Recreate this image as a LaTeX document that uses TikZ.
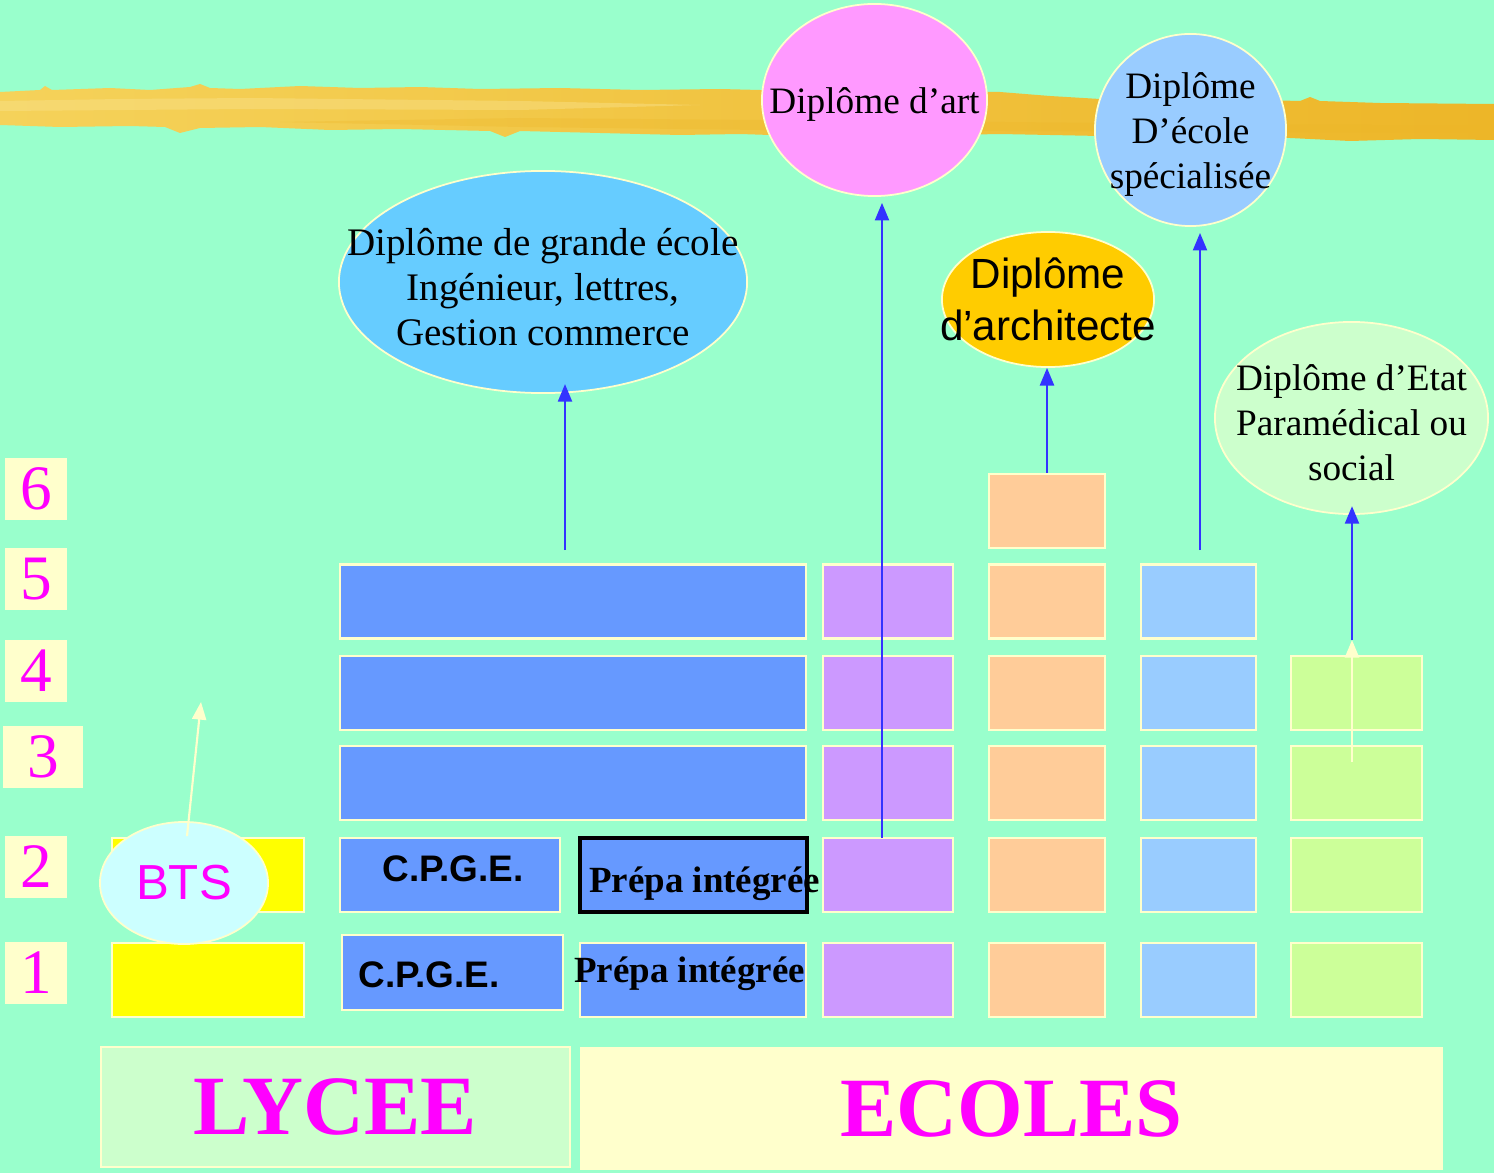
\documentclass[tikz,border=0pt]{standalone}
\usepackage{fontspec}
\setmainfont{Liberation Serif}
\setsansfont{Liberation Sans}
\usetikzlibrary{shapes.geometric}
\usetikzlibrary{arrows.meta}

\definecolor{mint}{HTML}{99FFCC}
\definecolor{cream}{HTML}{FFFFCC}
\definecolor{digit}{HTML}{FF00FF}
\definecolor{arrowblue}{HTML}{3333FF}
\definecolor{brushlight}{HTML}{F5D25A}
\definecolor{brushdark}{HTML}{EDB628}
\definecolor{brushpale}{HTML}{F9E28C}
\definecolor{gdecol}{HTML}{66CCFF}
\definecolor{artcol}{HTML}{FF99FF}
\definecolor{speccol}{HTML}{99CCFF}
\definecolor{archicol}{HTML}{FFCC00}
\definecolor{etatcol}{HTML}{CCFFCC}
\definecolor{btscol}{HTML}{CCFFFF}
\definecolor{btscell}{HTML}{FFFF00}
\definecolor{bluecell}{HTML}{6699FF}
\definecolor{purplecell}{HTML}{CC99FF}
\definecolor{orangecell}{HTML}{FFCC99}
\definecolor{skycell}{HTML}{99CCFF}
\definecolor{greencell}{HTML}{CCFF99}

\tikzstyle{year box}=[fill=cream, inner sep=0, minimum width=0.62cm, minimum height=0.62cm, text=digit, font=\fontsize{18}{18}\selectfont]
\tikzstyle{cell}=[draw=cream, line width=0.6pt, inner sep=0, minimum height=0.74cm]
\tikzstyle{diploma}=[ellipse, draw=cream, line width=0.5pt, inner sep=0]
\tikzstyle{diploma text}=[align=center, inner sep=0, yshift=-1.4pt, font=\fontsize{10.6}{12.8}\selectfont]
\tikzstyle{cell text}=[anchor=base, inner sep=0, font=\bfseries\fontsize{10.5}{10.5}\selectfont]
\tikzstyle{banner}=[inner sep=0, text=digit, font=\bfseries\fontsize{24}{24}\selectfont]
\tikzstyle{path arrow}=[draw=arrowblue, line width=0.6pt, -{Triangle[width=4pt,length=5pt]}]
\tikzstyle{pale arrow}=[draw=cream, line width=0.6pt, -{Triangle[width=4pt,length=5pt]}]

\begin{document}
\begin{tikzpicture}[x=0.01cm, y=-0.01cm]
    \useasboundingbox (0,0) rectangle (1494,1173);
    \fill[mint] (0,0) rectangle (1494,1173);

    % brush stroke
    \shade[left color=brushlight, right color=brushdark] (0,92) -- (40,90) -- (45,86) -- (52,90) -- (110,88) -- (150,90) -- (190,87) -- (200,84) -- (210,88) -- (240,89) -- (300,86) -- (360,88) -- (420,87) -- (480,89) -- (560,88) -- (640,90) -- (720,89) -- (800,91) -- (900,90) -- (1000,92) -- (1050,96) -- (1100,99) -- (1160,97) -- (1220,99) -- (1300,101) -- (1310,97) -- (1320,101) -- (1380,103) -- (1494,104)
      -- (1494,140) -- (1420,139) -- (1350,141) -- (1290,138) -- (1200,137) -- (1100,136) -- (1000,134) -- (900,136) -- (800,136) -- (740,134) -- (680,135) -- (600,133) -- (520,131) -- (505,137) -- (490,131) -- (400,129) -- (330,130) -- (260,127) -- (200,128) -- (180,133) -- (165,127) -- (130,126) -- (60,127) -- (0,125) -- cycle;
    \fill[brushpale, opacity=0.45] (0,101) -- (120,99) -- (250,98) -- (520,101) -- (700,105) -- (520,110) -- (250,109) -- (0,111) -- cycle;
    \fill[brushdark, opacity=0.3] (280,122) -- (520,118) -- (760,120) -- (1494,126) -- (1494,133) -- (760,130) -- (520,127) -- cycle;

    % years
    \node[year box] (n6) at (36,489) {6};
    \node[year box] (n5) at (36,579) {5};
    \node[year box] (n4) at (36,671) {4};
    \node[year box, minimum width=0.80cm] (n3) at (43,757) {3};
    \node[year box] (n2) at (36,867) {2};
    \node[year box] (n1) at (36,973) {1};

    % lycee
    \node[cell, fill=btscell, minimum width=1.92cm] (y2) at (208,875) {};
    \node[cell, fill=btscell, minimum width=1.92cm] (y1) at (208,980) {};

    % grandes ecoles
    \node[cell, fill=bluecell, minimum width=4.66cm] (b5) at (573,601.5) {};
    \node[cell, fill=bluecell, minimum width=4.66cm] (b4) at (573,693) {};
    \node[cell, fill=bluecell, minimum width=4.66cm] (b3) at (573,783) {};
    \node[cell, fill=bluecell, minimum width=2.20cm] (cpge2) at (450,875) {};
    \node[cell, fill=bluecell, minimum width=2.21cm, minimum height=0.75cm] (cpge1) at (452.5,972.5) {};
    \node[cell, fill=bluecell, draw=black, line width=1pt, minimum width=2.27cm] (prepa2) at (693.5,875) {};
    \node[cell, fill=bluecell, minimum width=2.26cm] (prepa1) at (693,980) {};

    % art
    \node[cell, fill=purplecell, minimum width=1.30cm] (p5) at (888,601.5) {};
    \node[cell, fill=purplecell, minimum width=1.30cm] (p4) at (888,693) {};
    \node[cell, fill=purplecell, minimum width=1.30cm] (p3) at (888,783) {};
    \node[cell, fill=purplecell, minimum width=1.30cm] (p2) at (888,875) {};
    \node[cell, fill=purplecell, minimum width=1.30cm] (p1) at (888,980) {};

    % architecture
    \node[cell, fill=orangecell, minimum width=1.16cm] (o6) at (1047,511) {};
    \node[cell, fill=orangecell, minimum width=1.16cm] (o5) at (1047,601.5) {};
    \node[cell, fill=orangecell, minimum width=1.16cm] (o4) at (1047,693) {};
    \node[cell, fill=orangecell, minimum width=1.16cm] (o3) at (1047,783) {};
    \node[cell, fill=orangecell, minimum width=1.16cm] (o2) at (1047,875) {};
    \node[cell, fill=orangecell, minimum width=1.16cm] (o1) at (1047,980) {};

    % ecoles specialisees
    \node[cell, fill=skycell, minimum width=1.15cm] (s5) at (1198.5,601.5) {};
    \node[cell, fill=skycell, minimum width=1.15cm] (s4) at (1198.5,693) {};
    \node[cell, fill=skycell, minimum width=1.15cm] (s3) at (1198.5,783) {};
    \node[cell, fill=skycell, minimum width=1.15cm] (s2) at (1198.5,875) {};
    \node[cell, fill=skycell, minimum width=1.15cm] (s1) at (1198.5,980) {};

    % paramedical
    \node[cell, fill=greencell, minimum width=1.31cm] (g4) at (1356.5,693) {};
    \node[cell, fill=greencell, minimum width=1.31cm] (g3) at (1356.5,783) {};
    \node[cell, fill=greencell, minimum width=1.31cm] (g2) at (1356.5,875) {};
    \node[cell, fill=greencell, minimum width=1.31cm] (g1) at (1356.5,980) {};

    \node[cell text, font=\sffamily\bfseries\fontsize{10.5}{10.5}\selectfont] (cpge2 text) at (453,881) {C.P.G.E.};
    \node[cell text, font=\sffamily\bfseries\fontsize{10.5}{10.5}\selectfont] (cpge1 text) at (429,987) {C.P.G.E.};
    \node[cell text] (prepa2 text) at (704.5,892) {Prépa intégrée};
    \node[cell text] (prepa1 text) at (689.5,982) {Prépa intégrée};

    % diplomes
    \node[diploma, fill=gdecol, minimum width=4.08cm, minimum height=2.22cm] (gde) at (543,282) {};
    \node[diploma text, font=\fontsize{11.1}{12.8}\selectfont] (gde text) at (gde) {Diplôme de grande école\\Ingénieur, lettres,\\Gestion commerce};
    \node[diploma, fill=artcol, minimum width=2.25cm, minimum height=1.92cm] (art) at (874.5,100) {};
    \node[diploma text] (art text) at (art) {Diplôme d’art};
    \node[diploma, fill=speccol, minimum width=1.91cm, minimum height=1.92cm] (spec) at (1190.5,130) {};
    \node[diploma text] (spec text) at (spec) {Diplôme\\D’école\\spécialisée};
    \node[diploma, fill=archicol, minimum width=2.12cm, minimum height=1.35cm] (archi) at (1048,299.5) {};
    \node[diploma text, yshift=1.4pt, font=\sffamily\fontsize{12}{14.7}\selectfont] (archi text) at (archi) {Diplôme\\d’architecte};
    \node[diploma, fill=etatcol, minimum width=2.73cm, minimum height=1.92cm] (etat) at (1351.5,418) {};
    \node[diploma text] (etat text) at (etat) {Diplôme d’Etat\\Paramédical ou\\social};
    \node[diploma, fill=btscol, minimum width=1.68cm, minimum height=1.22cm, text=digit, font=\sffamily\fontsize{14}{14}\selectfont] (bts) at (184,883) {BTS};

    \coordinate (gdefoot) at (565,550);
    \coordinate (artfoot) at (882,838);
    \coordinate (specfoot) at (1200,550);
    \coordinate (etatfoot) at (1352,640);
    \coordinate (etatroot) at (1352,762);
    \coordinate (btstip) at (201,702);

    \draw[path arrow, shorten >=-2.8pt] (gdefoot) -- (gdefoot |- gde.south);
    \draw[path arrow, shorten >=1.7pt] (artfoot) -- (artfoot |- art.south);
    \draw[path arrow] (o6.north) -- (o6.north |- archi.south);
    \draw[path arrow, shorten >=1.7pt] (specfoot) -- (specfoot |- spec.south);
    \draw[path arrow, shorten >=-2.5pt] (etatfoot) -- (etatfoot |- etat.south);
    \draw[pale arrow] (etatroot) -- (etatfoot);
    \draw[pale arrow] ([shift={(3,15)}]bts.north) -- (btstip);

    % bandeaux
    \node[banner, fill=etatcol, draw=cream, minimum width=4.69cm, minimum height=1.20cm] (lycee) at (335.5,1107) {LYCEE};
    \node[banner, fill=cream, minimum width=8.63cm, minimum height=1.23cm] (ecoles) at (1011.5,1108.5) {ECOLES};
  \end{tikzpicture}
\end{document}
